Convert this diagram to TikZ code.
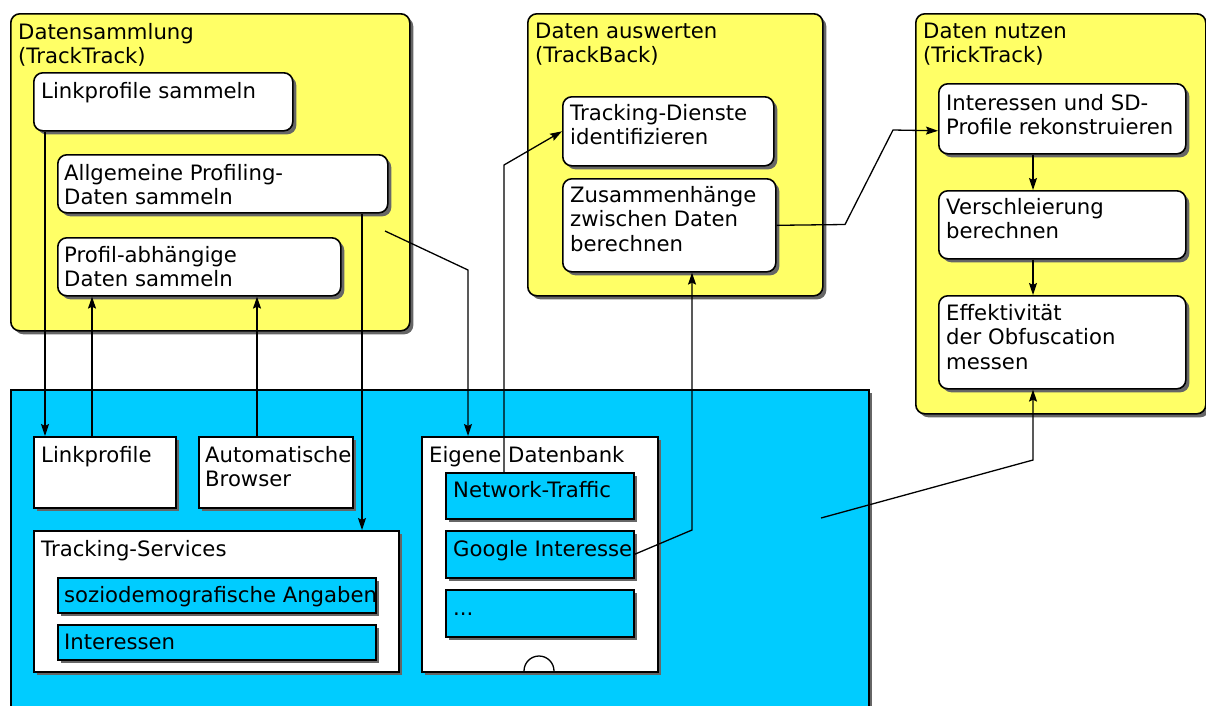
\documentclass[tikz,border=0pt]{standalone}
\usepackage{fontspec}
\setmainfont{DejaVu Sans}
\usetikzlibrary{arrows.meta,shadows}
\definecolor{ylw}{HTML}{FFFF66}
\definecolor{cyanb}{HTML}{00CCFF}
\newcommand\mylines[1]{\vtop{\halign{##\hfil\cr#1\crcr}}}
\begin{document}
\begin{tikzpicture}[x=1pt,y=-1pt,
  shd/.style={drop shadow={shadow xshift=3.5pt,shadow yshift=-3.5pt,fill=black!60,opacity=1}},
  grp/.style={draw,line width=1.6pt,fill=ylw,rounded corners=9pt,shd,inner sep=0,anchor=north west},
  rbox/.style={draw,line width=1.6pt,fill=white,rounded corners=9pt,shd,inner sep=0,anchor=north west},
  sbox/.style={draw,line width=1.6pt,fill=white,shd,inner sep=0,anchor=north west},
  cbox/.style={draw,line width=1.6pt,fill=cyanb,shd,inner sep=0,anchor=north west},
  txt/.style={inner sep=0,anchor=base west,font=\fontsize{21.2}{24.5}\selectfont},
  arr/.style={line width=1.3pt,-{Stealth[length=12pt,width=8pt,inset=2pt]}},
  ln/.style={line width=1.3pt}]
\useasboundingbox (0,0) rectangle (1206,705);
\clip (0,0) rectangle (1206,705);
\fill[white] (0,0) rectangle (1206,705);
% yellow groups
\node[grp,minimum width=399pt,minimum height=317pt] (g1) at (10,13) {};
\node[grp,minimum width=295pt,minimum height=282pt] (g2) at (527,13) {};
\node[grp,minimum width=290pt,minimum height=400pt] (g3) at (915,13) {};
% blue area
\node[cbox,minimum width=858pt,minimum height=340pt] (db) at (10,389) {};
% group 1 boxes
\node[rbox,minimum width=259pt,minimum height=58pt] (lps) at (33,72) {};
\node[rbox,minimum width=330pt,minimum height=58pt] (alg) at (57,154) {};
\node[rbox,minimum width=283pt,minimum height=58pt] (pab) at (57,237) {};
% group 2 boxes
\node[rbox,minimum width=211pt,minimum height=69pt] (tdi) at (562,96) {};
\node[rbox,minimum width=213pt,minimum height=93pt] (zus) at (562,178) {};
% group 3 boxes
\node[rbox,minimum width=247pt,minimum height=70pt] (isd) at (938,83) {};
\node[rbox,minimum width=247pt,minimum height=68pt] (ver) at (938,190) {};
\node[rbox,minimum width=247pt,minimum height=93pt] (eff) at (938,295) {};
% blue area boxes
\node[sbox,minimum width=142pt,minimum height=71pt] (lp) at (33,436) {};
\node[sbox,minimum width=154pt,minimum height=71pt] (ab) at (198,436) {};
\node[sbox,minimum width=365pt,minimum height=141pt] (ts) at (33,530) {};
\node[cbox,minimum width=318pt,minimum height=35pt] (sd) at (57,577) {};
\node[cbox,minimum width=318pt,minimum height=35pt] (int) at (57,624) {};
\node[sbox,minimum width=236pt,minimum height=235pt] (edb) at (421,436) {};
\node[cbox,minimum width=188pt,minimum height=46pt] (nt) at (445,472) {};
\node[cbox,minimum width=188pt,minimum height=47pt] (gi) at (445,530) {};
\node[cbox,minimum width=188pt,minimum height=47pt] (dots) at (445,589) {};
\draw[ln] (524,671) arc[start angle=180,end angle=360,radius=15];
% texts
\node[txt] (t1) at (18,39) {\mylines{Datensammlung\cr(TrackTrack)}};
\node[txt] (t2) at (535,38) {\mylines{Daten auswerten\cr(TrackBack)}};
\node[txt] (t3) at (923,38) {\mylines{Daten nutzen\cr(TrickTrack)}};
\node[txt] (tlps) at (41,98) {Linkprofile sammeln};
\node[txt] (talg) at (64,180) {\mylines{Allgemeine Profiling-\cr Daten sammeln}};
\node[txt] (tpab) at (64,262) {\mylines{Profil-abhängige\cr Daten sammeln}};
\node[txt] (ttdi) at (570,120) {\mylines{Tracking-Dienste\cr identifizieren}};
\node[txt] (tzus) at (570,202) {\mylines{Zusammenhänge\cr zwischen Daten\cr berechnen}};
\node[txt] (tisd) at (946,110) {\mylines{Interessen und SD-\cr Profile rekonstruieren}};
\node[txt] (tver) at (946,214) {\mylines{Verschleierung\cr berechnen}};
\node[txt] (teff) at (946,320) {\mylines{Effektivität\cr der Obfuscation\cr messen}};
\node[txt] (tlp) at (41,462) {Linkprofile};
\node[txt] (tab) at (205,462) {\mylines{Automatische\cr Browser}};
\node[txt] (tts) at (41,556) {Tracking-Services};
\node[txt] (tsd) at (64,602) {soziodemografische Angaben};
\node[txt] (tint) at (64,649) {Interessen};
\node[txt] (tedb) at (429,462) {Eigene Datenbank};
\node[txt] (tnt) at (453,497) {Network-Traffic};
\node[txt] (tgi) at (453,556) {Google Interesse};
\node[txt] (tdots) at (453,615) {...};
% connectors
\draw[arr] ([xshift=12pt]lps.south west) -- ([xshift=12pt]lp.north west);
\draw[arr] ([xshift=59pt]lp.north west) -- ([xshift=35pt]pab.south west);
\draw[arr] ([xshift=59pt]ab.north west) -- ([xshift=200pt]pab.south west);
\draw[arr] ([xshift=305pt]alg.south west) -- ([xshift=329pt]ts.north west);
\coordinate (c5) at (385,231);
\draw[arr] (c5) -- (468,270) -- ([xshift=47pt]edb.north west);
\draw[arr] ([xshift=59pt]nt.north west) -- (504,165) -- (tdi.west);
\draw[arr] (gi.east) -- (692,530) -- ([xshift=130pt]zus.south west);
\draw[arr] (zus.east) -- (845,224.5) -- (893,130) -- ([yshift=-12pt]isd.west);
\draw[arr] ([xshift=95pt]isd.south west) -- ([xshift=95pt]ver.north west);
\draw[arr] ([xshift=95pt]ver.south west) -- ([xshift=95pt]eff.north west);
\coordinate (c11) at (821,518);
\draw[arr] (c11) -- (1033,460) -- ([xshift=95pt]eff.south west);
\end{tikzpicture}
\end{document}
